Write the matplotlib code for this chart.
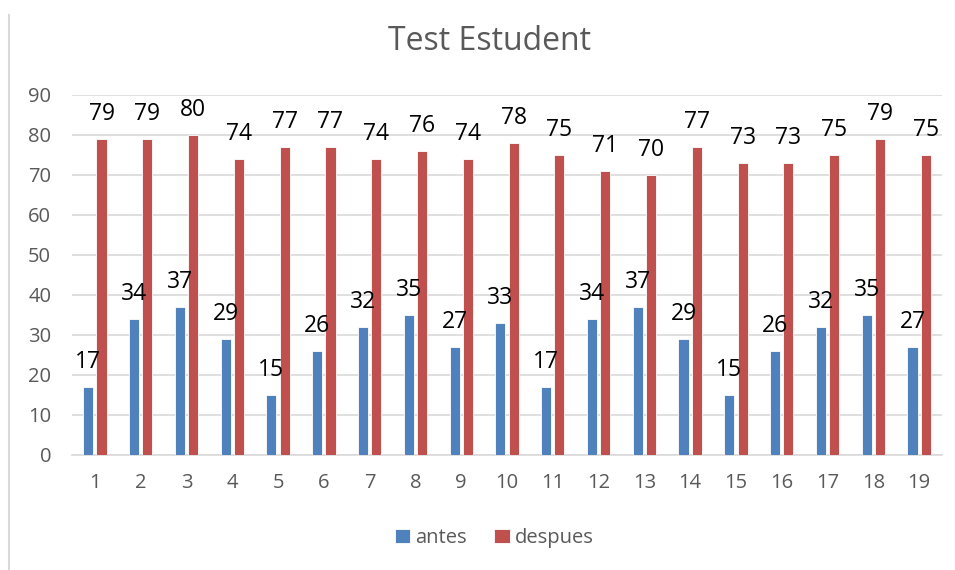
import matplotlib
matplotlib.use("Agg")
import matplotlib.pyplot as plt
from matplotlib.lines import Line2D
import numpy as np

categories = [str(i) for i in range(1, 20)]
antes = [17, 34, 37, 29, 15, 26, 32, 35, 27, 33, 17, 34, 37, 29, 15, 26, 32, 35, 27]
despues = [79, 79, 80, 74, 77, 77, 74, 76, 74, 78, 75, 71, 70, 77, 73, 73, 75, 79, 75]
yticks = [0, 10, 20, 30, 40, 50, 60, 70, 80, 90]

plt.rcParams['font.family'] = ['Open Sans', 'DejaVu Sans']
W, H = 955, 570
fig = plt.figure(figsize=(W/100, H/100), dpi=100)
ax = fig.add_axes([72/W, 1-455/H, (942-72)/W, 360/H])

blue = '#4F81BD'
red = '#C0504D'
x = np.arange(len(categories))
bw = 0.22
off = 0.145
b1 = ax.bar(x - off, antes, bw, color=blue, edgecolor='white', linewidth=0.6, label='antes', zorder=3)
b2 = ax.bar(x + off, despues, bw, color=red, edgecolor='white', linewidth=0.6, label='despues', zorder=3)
for bars in (b1, b2):
    ax.bar_label(bars, padding=9, fontsize=16.5, color='black')

ax.set_xlim(-0.5, len(categories) - 0.5)
ax.set_ylim(0, 90)
ax.set_yticks(yticks)
ax.set_xticks(x)
ax.set_xticklabels(categories)
ax.tick_params(axis='both', length=0, labelsize=14.5, colors='#595959')
ax.tick_params(axis='x', pad=13)
ax.tick_params(axis='y', pad=15)
ax.grid(axis='y', color='#D9D9D9', linewidth=1.2, zorder=0)
for s in ['top', 'right', 'left']:
    ax.spines[s].set_visible(False)
ax.spines['bottom'].set_color('#D9D9D9')
ax.spines['bottom'].set_linewidth(1.2)

fig.text(489/W, 1-42/H, 'Test Estudent', ha='center', va='center', fontsize=23, color='#595959')

fig.legend(handles=[b1, b2], labels=['antes', 'despues'], loc='center', bbox_to_anchor=(494/W, 1-538/H),
           ncol=2, frameon=False, fontsize=14.5, labelcolor='#595959', handlelength=0.75, handleheight=0.75,
           handletextpad=0.25, columnspacing=1.4)

fig.add_artist(Line2D([9/W, 9/W], [0, 1-15/H], color='#D9D9D9', linewidth=1.5))

fig.savefig('out.png', dpi=100)
